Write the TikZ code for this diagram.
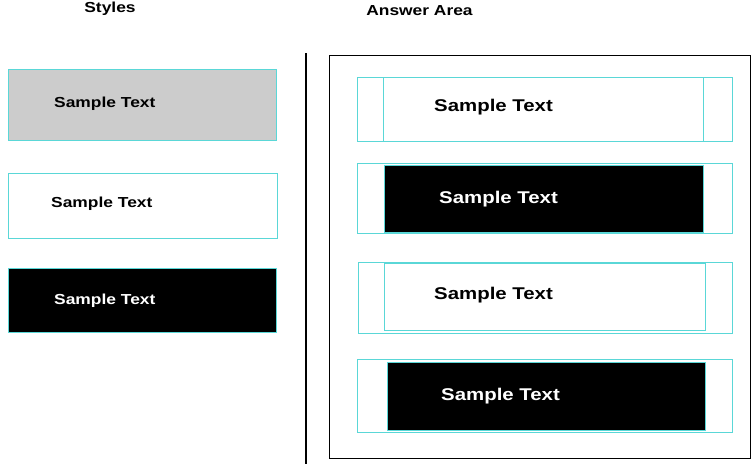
\documentclass[tikz,border=0pt]{standalone}
\usepackage{fontspec}
\setmainfont[FakeStretch=1.2]{Liberation Sans}
\definecolor{boxline}{RGB}{90,215,215}
\definecolor{boxgray}{RGB}{204,204,204}
\begin{document}
\begin{tikzpicture}[x=1pt,y=-1pt]

\tikzset{caja/.style={rectangle,draw=boxline,line width=1pt,inner sep=0pt,outer sep=0pt}}
\tikzset{texto/.style={inner sep=0pt,anchor=west,font=\bfseries\fontsize{14.5}{17}\selectfont}}
\tikzset{textog/.style={texto,font=\bfseries\fontsize{17}{20}\selectfont}}
\tikzset{titulo/.style={inner sep=0pt,font=\bfseries\fontsize{14.5}{17}\selectfont}}

\useasboundingbox (0,0) rectangle (753,464);

\draw (110,9) node[titulo](styles) {Styles};
\draw (419.5,11) node[titulo](answer) {Answer Area};

% estilos
\draw (142,104.5) node[caja,fill=boxgray,minimum width=268pt,minimum height=71pt](b1) {};
\draw (142.5,205.5) node[caja,fill=white,minimum width=269pt,minimum height=65pt](b2) {};
\draw (142,300) node[caja,fill=black,minimum width=268pt,minimum height=64pt](b3) {};
\draw (54,104) node[texto](t1) {Sample Text};
\draw (51,204) node[texto](t2) {Sample Text};
\draw (54,301) node[texto,text=white](t3) {Sample Text};

\coordinate (top) at (306,53);
\coordinate (bot) at (306,464);
\draw[line width=2pt] (top) -- (bot);

% area de respuesta
\draw (539.5,256.5) node[rectangle,draw=black,line width=1pt,minimum width=421pt,minimum height=403pt](area) {};

\draw (544.5,109) node[caja,minimum width=375pt,minimum height=64pt](o1) {};
\draw (544.5,198) node[caja,minimum width=375pt,minimum height=70pt](o2) {};
\draw (545,297.5) node[caja,minimum width=374pt,minimum height=71pt](o3) {};
\draw (544.5,395.5) node[caja,minimum width=375pt,minimum height=73pt](o4) {};

\draw (543,109) node[caja,fill=white,minimum width=320pt,minimum height=64pt](i1) {};
\draw (543.5,198.5) node[caja,fill=black,minimum width=319pt,minimum height=67pt](i2) {};
\draw (544.5,296.5) node[caja,fill=white,minimum width=321pt,minimum height=67pt](i3) {};
\draw (546,396) node[caja,fill=black,minimum width=318pt,minimum height=68pt](i4) {};

\draw (434,107) node[textog](r1) {Sample Text};
\draw (439,199) node[textog,text=white](r2) {Sample Text};
\draw (434,295) node[textog](r3) {Sample Text};
\draw (441,396) node[textog,text=white](r4) {Sample Text};

\end{tikzpicture}
\end{document}
